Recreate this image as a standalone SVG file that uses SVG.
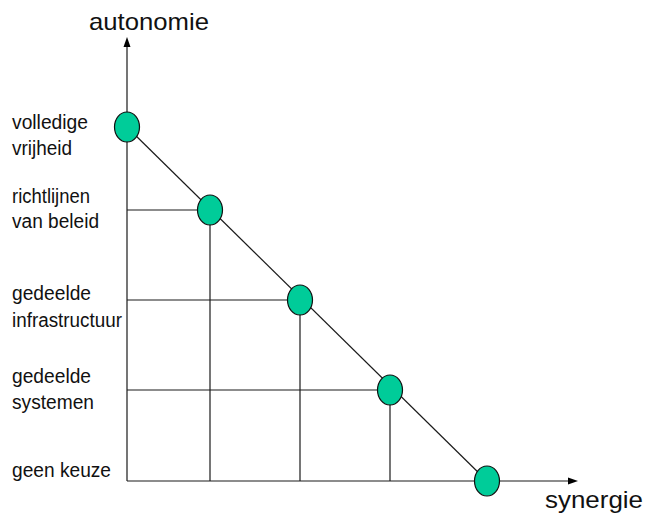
<svg xmlns="http://www.w3.org/2000/svg" width="646" height="517" viewBox="0 0 646 517">
<style>
.ln{stroke:#1a1a1a;stroke-width:1.2;fill:none}
.dot{fill:#00cc99;stroke:#111;stroke-width:1.2}
.lbl{font-family:"Liberation Sans",Arial,sans-serif;font-size:20px;fill:#111}
.ax{font-family:"Liberation Sans",Arial,sans-serif;font-size:24px;fill:#111}
.ah{fill:#000}
</style>
<rect width="646" height="517" fill="#fff"/>
<g id="connectors">
<line class="ln" x1="127" y1="46" x2="127" y2="481"/>
<line class="ln" x1="127" y1="481" x2="569" y2="481"/>
<polygon class="ah" points="127,37 123.5,47 130.5,47"/>
<polygon class="ah" points="578,481 568,477.5 568,484.5"/>
<line class="ln" x1="127" y1="210" x2="210" y2="210"/>
<line class="ln" x1="127" y1="300" x2="300" y2="300"/>
<line class="ln" x1="127" y1="390" x2="390" y2="390"/>
<line class="ln" x1="210" y1="210" x2="210" y2="481"/>
<line class="ln" x1="300" y1="300" x2="300" y2="481"/>
<line class="ln" x1="390" y1="390" x2="390" y2="481"/>
<line class="ln" x1="127" y1="127" x2="487" y2="481"/>
</g>
<g id="axis-labels">
<text class="ax" x="89" y="30" textLength="120" lengthAdjust="spacingAndGlyphs">autonomie</text>
<text class="ax" x="545" y="508" textLength="98" lengthAdjust="spacingAndGlyphs">synergie</text>
</g>
<g id="level-labels">
<text class="lbl" x="12" y="129" textLength="76" lengthAdjust="spacingAndGlyphs">volledige</text>
<text class="lbl" x="12" y="155" textLength="60" lengthAdjust="spacingAndGlyphs">vrijheid</text>
<text class="lbl" x="12" y="203" textLength="78" lengthAdjust="spacingAndGlyphs">richtlijnen</text>
<text class="lbl" x="12" y="228" textLength="87" lengthAdjust="spacingAndGlyphs">van beleid</text>
<text class="lbl" x="12" y="300" textLength="79" lengthAdjust="spacingAndGlyphs">gedeelde</text>
<text class="lbl" x="12" y="327" textLength="110" lengthAdjust="spacingAndGlyphs">infrastructuur</text>
<text class="lbl" x="12" y="383" textLength="79" lengthAdjust="spacingAndGlyphs">gedeelde</text>
<text class="lbl" x="12" y="409" textLength="82" lengthAdjust="spacingAndGlyphs">systemen</text>
<text class="lbl" x="12" y="477" textLength="99" lengthAdjust="spacingAndGlyphs">geen keuze</text>
</g>
<g id="node-volledige-vrijheid"><ellipse class="dot" cx="127" cy="127" rx="12.5" ry="15"/></g>
<g id="node-richtlijnen"><ellipse class="dot" cx="210" cy="210" rx="12.5" ry="15"/></g>
<g id="node-infrastructuur"><ellipse class="dot" cx="300" cy="300" rx="12.5" ry="15"/></g>
<g id="node-systemen"><ellipse class="dot" cx="390" cy="390" rx="12.5" ry="15"/></g>
<g id="node-geen-keuze"><ellipse class="dot" cx="487" cy="481" rx="12.5" ry="15"/></g>
</svg>
